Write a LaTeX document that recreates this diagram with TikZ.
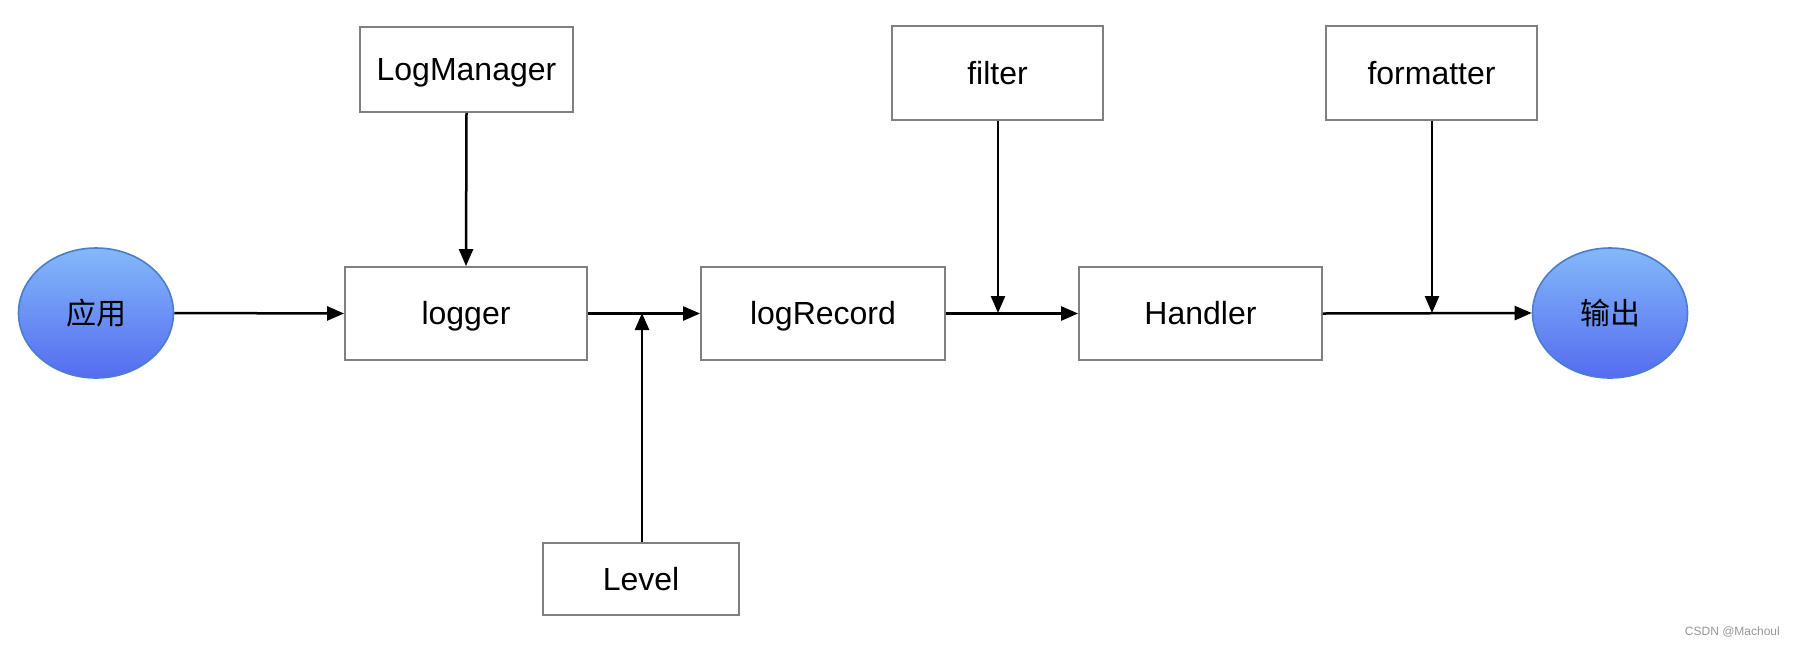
\documentclass[tikz,border=0pt]{standalone}
\usepackage{fontspec}
\setmainfont{Liberation Sans}
\newfontfamily\cjk{Noto Sans CJK SC}
\usetikzlibrary{arrows.meta,shapes.geometric}
\definecolor{boxgray}{RGB}{128,128,128}
\definecolor{elltop}{RGB}{132,184,250}
\definecolor{ellbot}{RGB}{84,108,240}
\definecolor{elledge}{RGB}{74,126,205}
\definecolor{wmgray}{RGB}{150,150,150}
\tikzset{
  px/.style={x=1pt,y=-1pt},
  box/.style={draw=boxgray,line width=1.8pt,fill=white,inner sep=0pt,font=\fontsize{32}{38}\selectfont,text height=29pt,text depth=6.8pt},
  oval/.style={ellipse,draw=elledge,line width=1.6pt,top color=elltop,bottom color=ellbot,minimum width=155pt,minimum height=130pt,inner sep=0pt,font=\cjk\fontsize{30}{36}\selectfont},
  conn/.style={line width=2.5pt,-{Triangle[length=17pt,width=14pt]}},
}
\begin{document}
\begin{tikzpicture}[px]
\useasboundingbox (0,0) rectangle (1796,646);
\node[oval] (app) at (96,313) {应用};
\node[oval] (out) at (1610,313) {输出};
\node[box,minimum width=242pt,minimum height=93pt] (logger) at (466,313.5) {logger};
\node[box,minimum width=244pt,minimum height=93pt] (rec) at (823,313.5) {logRecord};
\node[box,minimum width=243pt,minimum height=93pt] (hand) at (1200.5,313.5) {Handler};
\node[box,minimum width=213pt,minimum height=85pt] (lm) at (466.5,69.5) {LogManager};
\node[box,minimum width=211pt,minimum height=94pt] (filt) at (997.5,73) {filter};
\node[box,minimum width=211pt,minimum height=94pt] (fmt) at (1431.5,73) {formatter};
\node[box,minimum width=196pt,minimum height=72pt] (lvl) at (641,579) {Level};
\coordinate (jl) at (642,313);
\coordinate (jf) at (998,313);
\coordinate (jm) at (1432,313);
\draw[conn] (app.east) -- (logger.west);
\draw[conn] (logger.east) -- (rec.west);
\draw[conn] (rec.east) -- (hand.west);
\draw[conn] (hand.east) -- (out.west);
\draw[conn] (lm.south) -- (logger.north);
\draw[conn] (lvl.north -| jl) -- (jl);
\draw[conn] (filt.south -| jf) -- (jf);
\draw[conn] (fmt.south -| jm) -- (jm);
\node[anchor=east,text=wmgray,font=\fontsize{12}{14}\selectfont,inner sep=0pt] (wm) at (1780,632) {CSDN @Machoul};
\end{tikzpicture}
\end{document}
